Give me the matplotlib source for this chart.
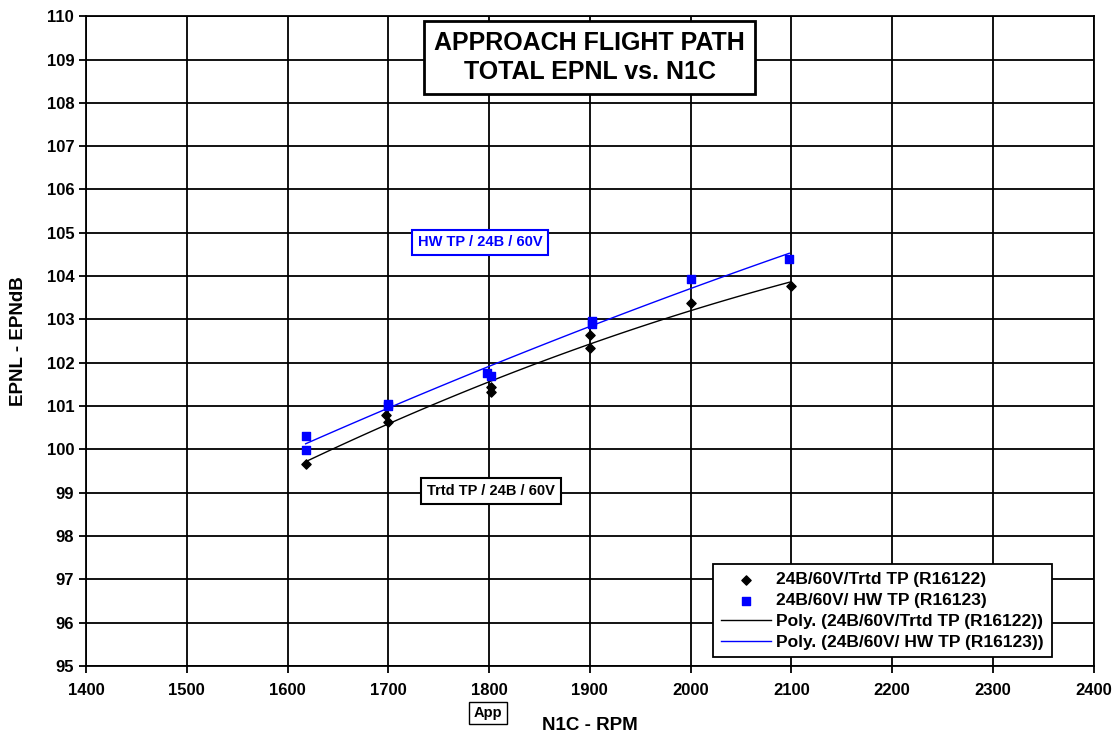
#!/usr/bin/env python3

import numpy as np
import matplotlib.pyplot as plt

# data
trtd_rpm = [1618, 1698, 1700, 1802, 1802, 1900, 1900, 2000, 2100]
trtd_epnl = [99.66, 100.79, 100.63, 101.44, 101.32, 102.64, 102.34, 103.38, 103.77]
hw_rpm = [1618, 1618, 1700, 1700, 1798, 1802, 1902, 1902, 2000, 2098]
hw_epnl = [100.30, 99.98, 101.05, 101.00, 101.76, 101.69, 102.96, 102.90, 103.93, 104.39]

xticks = np.arange(1400, 2401, 100)
yticks = np.arange(95, 111, 1)

plt.rcParams['font.family'] = ['Liberation Sans', 'DejaVu Sans']
plt.rcParams['font.weight'] = 'bold'

fig = plt.figure(figsize=(11.17, 7.36), dpi=100)
ax = fig.add_axes([0.077, 0.095, 0.902, 0.883])

ax.scatter(trtd_rpm, trtd_epnl, marker='D', s=22, color='black', zorder=4,
           label='24B/60V/Trtd TP (R16122)')
ax.scatter(hw_rpm, hw_epnl, marker='s', s=40, color='#0000ff', zorder=4,
           label='24B/60V/ HW TP (R16123)')

# polynomial trendlines (2nd order) like the spreadsheet
xt = np.linspace(min(trtd_rpm), max(trtd_rpm), 100)
ct = np.polyfit(trtd_rpm, trtd_epnl, 2)
ax.plot(xt, np.polyval(ct, xt), color='black', lw=1, zorder=3,
        label='Poly. (24B/60V/Trtd TP (R16122))')
xh = np.linspace(min(hw_rpm), max(hw_rpm), 100)
ch = np.polyfit(hw_rpm, hw_epnl, 2)
ax.plot(xh, np.polyval(ch, xh), color='#0000ff', lw=1, zorder=3,
        label='Poly. (24B/60V/ HW TP (R16123))')

ax.set_xlim(1400, 2400)
ax.set_ylim(95, 110)
ax.set_xticks(xticks)
ax.set_yticks(yticks)
ax.grid(True, color='black', lw=1.3)
ax.set_axisbelow(True)
for s in ax.spines.values():
    s.set_linewidth(1.3)
ax.tick_params(axis='both', direction='out', length=5, width=1.3, labelsize=12)
ax.tick_params(axis='x', pad=7)
for lab in ax.get_xticklabels() + ax.get_yticklabels():
    lab.set_fontweight('bold')

ax.set_xlabel('N1C - RPM', fontsize=13.5, fontweight='bold', labelpad=14)
ax.set_ylabel('EPNL - EPNdB', fontsize=13.5, fontweight='bold', labelpad=14)

ax.text(1900, 109.05, 'APPROACH FLIGHT PATH\nTOTAL EPNL vs. N1C', ha='center', va='center',
        fontsize=18, fontweight='bold', linespacing=1.25,
        bbox=dict(boxstyle='square,pad=0.4', fc='white', ec='black', lw=2), zorder=5)
ax.text(1791, 104.78, 'HW TP / 24B / 60V', ha='center', va='center', color='#0000ff',
        fontsize=10.5, fontweight='bold',
        bbox=dict(boxstyle='square,pad=0.4', fc='white', ec='#0000ff', lw=1.5), zorder=5)
ax.text(1802, 99.04, 'Trtd TP / 24B / 60V', ha='center', va='center', color='black',
        fontsize=10.5, fontweight='bold',
        bbox=dict(boxstyle='square,pad=0.4', fc='white', ec='black', lw=1.5), zorder=5)
fig.text(488 / 1117, 1 - 713 / 736, 'App', ha='center', va='center', fontsize=10.5,
         fontweight='bold', bbox=dict(boxstyle='square,pad=0.3', fc='white', ec='black', lw=1))

leg = ax.legend(loc='lower right', bbox_to_anchor=(0.967, 0.0), fontsize=12.5,
                frameon=True, fancybox=False, edgecolor='black', framealpha=1,
                borderpad=0.45, labelspacing=0.32, handlelength=2.9, handletextpad=0.3)
leg.get_frame().set_linewidth(1.3)
for t in leg.get_texts():
    t.set_fontweight('bold')

fig.savefig('out.png', dpi=100)
